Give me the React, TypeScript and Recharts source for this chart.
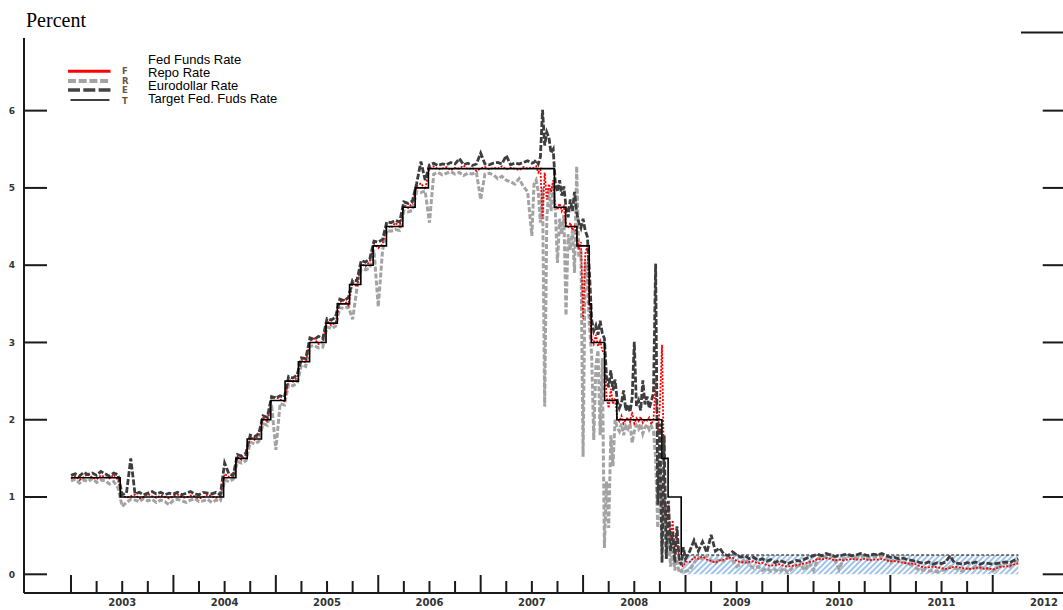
import React from 'react'
import { Area, ComposedChart, Line, ReferenceLine, XAxis, YAxis } from 'recharts'

// axis ranges (fractional years / percent)
const X_MIN = 2002.541
const X_MAX = 2012.686
const Y_MIN = -0.242
const Y_MAX = 6.94

const Y_TICKS = [0, 1, 2, 3, 4, 5, 6]
const YEAR_LABELS = ['2003', '2004', '2005', '2006', '2007', '2008', '2009', '2010', '2011', '2012']

// observation dates: half-monthly to mid-2007, weekly through 2008, half-monthly after
const DATES = [
  ...Array.from({ length: 109 }, (_, i) => 2003 + i / 24),
  ...Array.from({ length: 72 }, (_, j) => 2007.5 + (j + 1) / 48),
  ...Array.from({ length: 78 }, (_, k) => 2009 + (k + 1) / 24),
]

const FED_FUNDS = [
  1.24, 1.27, 1.22, 1.26, 1.30, 1.25, 1.23, 1.28, 1.26, 1.24, 1.29, 1.22,
  1.02, 0.99, 1.01, 1.03, 0.98, 1.00, 1.04, 1.01, 0.99, 1.02, 1.00, 0.98,
  1.01, 1.03, 1.00, 0.99, 1.02, 1.01, 0.98, 1.00, 1.03, 1.01, 0.99, 1.02,
  1.30, 1.26, 1.28, 1.52, 1.48, 1.55, 1.78, 1.74, 1.80, 2.02, 1.98, 2.28,
  2.30, 2.26, 2.24, 2.52, 2.49, 2.55, 2.78, 2.74, 3.02, 3.05, 2.98, 3.01,
  3.28, 3.22, 3.26, 3.52, 3.55, 3.48, 3.78, 3.72, 4.02, 3.98, 4.05, 4.28,
  4.22, 4.27, 4.52, 4.48, 4.55, 4.50, 4.78, 4.74, 4.80, 5.02, 5.06, 4.98,
  5.26, 5.28, 5.24, 5.25, 5.27, 5.23, 5.26, 5.25, 5.29, 5.24, 5.26, 5.22, 5.25,
  5.27, 5.24, 5.26, 5.25, 5.28, 5.24, 5.26, 5.25, 5.23, 5.27, 5.25, 5.26,
  // 2007H2 - 2008 weekly
  5.26, 5.28, 5.20, 5.24, 4.60, 5.20, 4.85, 5.05, 4.95, 5.10,
  4.78, 4.72, 4.80, 4.70, 4.76,
  4.52, 4.48, 4.55, 4.45, 4.50, 4.40,
  4.20, 4.30, 3.30, 4.15, 4.25,
  3.45,
  3.05, 2.98, 3.10, 2.95, 3.02, 2.90, 2.85,
  2.30, 2.15, 2.40, 2.20, 2.28,
  2.02, 1.98, 2.05, 1.95, 2.00, 2.03, 1.97, 2.10, 1.95, 2.02, 1.98, 2.04, 1.96, 2.01, 1.99, 2.03, 1.94, 2.00,
  2.50, 1.80, 2.20,
  2.97, 1.20, 0.65,
  0.90, 0.45, 0.70, 0.25, 0.50, 0.20,
  0.12, 0.10, 0.16,
  // 2009 - 2012
  0.16, 0.22, 0.20, 0.23, 0.19, 0.17, 0.15, 0.18, 0.19, 0.21, 0.22, 0.17,
  0.16, 0.15, 0.16, 0.17, 0.14, 0.15, 0.12, 0.11, 0.12, 0.13, 0.11, 0.10,
  0.11, 0.12, 0.13, 0.14, 0.16, 0.17, 0.20, 0.19, 0.21, 0.20, 0.18, 0.19,
  0.18, 0.19, 0.20, 0.19, 0.19, 0.20, 0.18, 0.19, 0.19, 0.20, 0.18, 0.17,
  0.17, 0.16, 0.15, 0.14, 0.14, 0.13, 0.10, 0.09, 0.09, 0.10, 0.09, 0.08,
  0.07, 0.08, 0.10, 0.09, 0.08, 0.07, 0.07, 0.08, 0.09, 0.07, 0.08, 0.06,
  0.08, 0.10, 0.10, 0.11, 0.13, 0.14,
]

const REPO = [
  1.21, 1.23, 1.18, 1.22, 1.20, 1.24, 1.19, 1.22, 1.21, 1.17, 1.20, 1.12,
  0.88, 0.93, 0.97, 0.96, 0.94, 0.98, 0.95, 0.97, 0.93, 0.96, 0.94, 0.90,
  0.96, 0.97, 0.95, 0.93, 0.96, 0.98, 0.94, 0.95, 0.97, 0.93, 0.96, 0.95,
  1.22, 1.20, 1.23, 1.46, 1.44, 1.47, 1.71, 1.69, 1.72, 1.95, 1.93, 2.20,
  1.61, 2.21, 2.19, 2.46, 2.44, 2.47, 2.71, 2.69, 2.95, 2.96, 2.93, 2.94,
  3.20, 3.18, 3.21, 3.45, 3.44, 3.46, 3.30, 3.70, 3.95, 3.94, 3.96, 4.20,
  3.46, 4.19, 4.45, 4.44, 4.46, 4.45, 4.70, 4.69, 4.71, 4.95, 4.94, 4.96,
  4.55, 5.18, 5.20, 5.17, 5.19, 5.21, 5.18, 5.20, 5.16, 5.19, 5.18, 5.20, 4.85,
  5.18, 5.19, 5.17, 5.12, 5.15, 5.10, 5.08, 5.05, 5.12, 5.02, 4.95, 4.38,
  // 2007H2 - 2008 weekly
  5.05, 5.10, 4.95, 4.55, 5.00, 2.17, 4.60, 5.00, 4.70, 5.05,
  4.70, 4.03, 4.60, 4.40, 4.65,
  3.35, 4.40, 4.20, 4.45, 3.90, 5.28,
  4.10, 4.20, 1.52, 4.05, 3.80,
  3.20,
  2.85, 1.74, 2.70, 2.90, 1.80, 2.80, 0.34,
  1.20, 0.60, 1.80, 1.40, 2.00,
  1.90, 1.85, 1.95, 1.80, 1.92, 1.88, 1.95, 1.70, 1.85, 1.93, 1.88, 1.95, 1.82, 1.90, 1.94, 1.87, 1.92, 1.85,
  1.50, 0.60, 1.40,
  0.30, 1.00, 0.20,
  0.50, 0.10, 0.30, 0.05, 0.20, 0.02,
  0.05, 0.02, 0.04,
  // 2009 - 2012
  0.05, 0.15, 0.22, 0.20, 0.24, 0.18, 0.15, 0.20, 0.17, 0.22, 0.18, 0.10,
  0.14, 0.20, 0.12, 0.08, 0.10, 0.05, 0.08, 0.04, 0.06, 0.03, 0.08, 0.02,
  0.08, 0.10, 0.12, 0.05, 0.15, 0.05, 0.20, 0.24, 0.22, 0.25, 0.18, 0.06,
  0.20, 0.23, 0.24, 0.21, 0.22, 0.25, 0.20, 0.23, 0.22, 0.24, 0.21, 0.15,
  0.20, 0.18, 0.16, 0.14, 0.12, 0.08, 0.05, 0.06, 0.04, 0.05, 0.03, 0.05,
  0.06, 0.10, 0.08, 0.06, 0.04, 0.08, 0.06, 0.10, 0.08, 0.09, 0.07, 0.04,
  0.08, 0.12, 0.15, 0.10, 0.16, 0.18,
]

const EURODOLLAR = [
  1.28, 1.30, 1.27, 1.32, 1.29, 1.31, 1.28, 1.33, 1.30, 1.27, 1.31, 1.29,
  1.03, 1.05, 1.50, 1.04, 1.06, 1.03, 1.05, 1.07, 1.04, 1.06, 1.03, 1.05,
  1.04, 1.06, 1.03, 1.05, 1.07, 1.04, 1.03, 1.06, 1.05, 1.04, 1.06, 1.03,
  1.44, 1.30, 1.28, 1.55, 1.53, 1.57, 1.80, 1.78, 1.82, 2.05, 2.03, 2.30,
  2.28, 2.31, 2.29, 2.56, 2.54, 2.58, 2.80, 2.79, 3.06, 3.04, 3.08, 3.05,
  3.31, 3.29, 3.33, 3.56, 3.54, 3.58, 3.81, 3.80, 4.06, 4.04, 4.08, 4.31,
  4.30, 4.33, 4.56, 4.55, 4.58, 4.56, 4.82, 4.80, 4.83, 5.06, 5.34, 5.10,
  5.30, 5.32, 5.29, 5.31, 5.30, 5.33, 5.31, 5.38, 5.30, 5.32, 5.29, 5.31, 5.45,
  5.31, 5.30, 5.32, 5.33, 5.31, 5.42, 5.30, 5.32, 5.31, 5.33, 5.35, 5.32,
  // 2007H2 - 2008 weekly
  5.33, 5.36, 5.31, 5.40, 6.01, 5.55, 5.72, 5.65, 5.45, 5.50,
  5.05, 4.95, 5.10, 4.90, 5.02,
  4.75, 4.62, 4.85, 4.70, 4.95, 4.68,
  4.55, 4.48, 4.60, 4.45, 4.37,
  3.90,
  3.30, 3.15, 3.22, 3.10, 3.28, 3.12, 3.05,
  2.55, 2.42, 2.64, 2.38, 2.52,
  2.25, 2.15, 2.22, 2.38, 2.12, 2.20, 2.10, 2.28, 3.01, 2.18, 2.25, 2.12, 2.51, 2.20, 2.30, 2.15, 2.24, 2.35,
  4.02, 0.90, 1.95,
  0.15, 1.80, 0.20,
  0.95, 0.30, 0.55, 0.15, 0.62, 0.20,
  0.12, 0.35, 0.20,
  // 2009 - 2012
  0.30, 0.44, 0.30, 0.42, 0.28, 0.51, 0.30, 0.34, 0.26, 0.24, 0.29, 0.25,
  0.22, 0.24, 0.20, 0.22, 0.18, 0.20, 0.17, 0.19, 0.15, 0.18, 0.16, 0.14,
  0.16, 0.18, 0.17, 0.20, 0.22, 0.24, 0.26, 0.24, 0.27, 0.25, 0.23, 0.24,
  0.25, 0.26, 0.24, 0.25, 0.27, 0.25, 0.24, 0.26, 0.25, 0.27, 0.24, 0.22,
  0.22, 0.20, 0.21, 0.19, 0.18, 0.17, 0.15, 0.14, 0.16, 0.13, 0.15, 0.14,
  0.16, 0.24, 0.15, 0.14, 0.13, 0.15, 0.14, 0.16, 0.13, 0.15, 0.14, 0.13,
  0.14, 0.15, 0.16, 0.15, 0.18, 0.20,
]

// FOMC target changes (date of change, new rate)
const TARGET_DATES = [
  2003.0, 2003.48, 2004.49, 2004.61, 2004.72, 2004.86, 2004.95, 2005.09, 2005.22, 2005.33,
  2005.49, 2005.6, 2005.72, 2005.83, 2005.95, 2006.08, 2006.24, 2006.36, 2006.49, 2007.72,
  2007.83, 2007.94, 2008.06, 2008.08, 2008.21, 2008.33, 2008.77, 2008.83, 2008.958,
]
const TARGET = [
  1.25, 1.0, 1.25, 1.5, 1.75, 2.0, 2.25, 2.5, 2.75, 3.0,
  3.25, 3.5, 3.75, 4.0, 4.25, 4.5, 4.75, 5.0, 5.25, 4.75,
  4.5, 4.25, 3.5, 3.0, 2.25, 2.0, 1.5, 1.0, 0.25,
]

// target range 0 - 0.25 since Dec 2008
const RANGE_DATES = [2008.958, 2012.25]
const RANGE_HIGH = [0.25, 0.25]

const rows = (dates: number[], vals: number[]) => dates.map((t, i) => ({ t, v: vals[i] }))
const ffData = rows(DATES, FED_FUNDS)
const repoData = rows(DATES, REPO)
const euroData = rows(DATES, EURODOLLAR)
const targetData = rows(TARGET_DATES, TARGET)
const rangeData = rows(RANGE_DATES, RANGE_HIGH)

const QUARTERS = Array.from({ length: 37 }, (_, i) => 2003 + i / 4)
const LABEL_AT = YEAR_LABELS.map((y) => Number(y) + 0.5)
const X_TICKS = Array.from(new Set([...QUARTERS, ...LABEL_AT])).sort((a, b) => a - b)

const AXIS = '#1a1a1a'
const TICK_FONT = "'DejaVu Sans', Verdana, sans-serif"
const PLOT_LEFT = 24
const PLOT_BOTTOM = 593

const LEGEND = [
  { name: 'Fed Funds Rate', code: 'F', color: '#ff0000', width: 3, dash: undefined },
  { name: 'Repo Rate', code: 'R', color: '#a3a3a3', width: 4, dash: '8 2.7' },
  { name: 'Eurodollar Rate', code: 'E', color: '#444444', width: 3.3, dash: '12 3.3' },
  { name: 'Target Fed. Fuds Rate', code: 'T', color: '#000000', width: 1.4, dash: undefined },
]

function XTick(props: any) {
  const { x, payload } = props
  const v = payload.value as number
  const major = Math.abs(v - Math.round(v)) < 1e-6
  const idx = LABEL_AT.indexOf(v)
  return (
    <g>
      {v <= 2012.001 && (
        <line x1={x} x2={x} y1={PLOT_BOTTOM} y2={major ? PLOT_BOTTOM - 18 : PLOT_BOTTOM - 12} stroke={AXIS} strokeWidth={2} />
      )}
      {idx >= 0 && (
        <text x={x} y={606} textAnchor="middle" fontSize={10} fontWeight="bold" fontFamily={TICK_FONT} fill="#333">
          {YEAR_LABELS[idx]}
        </text>
      )}
    </g>
  )
}

function YTick(props: any) {
  const { y, payload } = props
  return (
    <g>
      <line x1={PLOT_LEFT} x2={PLOT_LEFT + 23} y1={y} y2={y} stroke={AXIS} strokeWidth={2} />
      <text x={12} y={y + 3.3} textAnchor="middle" fontSize={9} fontWeight="bold" fontFamily={TICK_FONT} fill="#333">
        {payload.value}
      </text>
    </g>
  )
}

export default function App() {
  return (
    <div style={{ position: 'absolute', left: 0, top: 0, width: 1063, height: 610, overflow: 'hidden', background: '#fff' }}>
      <ComposedChart width={1063} height={610} margin={{ top: 38, right: 0, bottom: 0, left: 0 }}>
        <defs>
          <pattern id="hatch" patternUnits="userSpaceOnUse" width="4" height="4" patternTransform="rotate(45)">
            <line x1="1" y1="0" x2="1" y2="4" stroke="#5f9bd8" strokeWidth="1.4" />
          </pattern>
        </defs>
        <XAxis
          type="number"
          dataKey="t"
          domain={[X_MIN, X_MAX]}
          allowDataOverflow
          ticks={X_TICKS}
          interval={0}
          tick={XTick}
          tickLine={false}
          axisLine={{ stroke: AXIS, strokeWidth: 2 }}
          height={17}
        />
        <YAxis
          type="number"
          domain={[Y_MIN, Y_MAX]}
          allowDataOverflow
          ticks={Y_TICKS}
          interval={0}
          tick={YTick}
          tickLine={false}
          axisLine={{ stroke: AXIS, strokeWidth: 2 }}
          width={24}
        />
        {Y_TICKS.map((v) => (
          <ReferenceLine
            key={v}
            segment={[{ x: 2012.488, y: v }, { x: X_MAX, y: v }]}
            stroke={AXIS}
            strokeWidth={2}
            ifOverflow="visible"
          />
        ))}
        <ReferenceLine
          segment={[{ x: 2012.276, y: 7.01 }, { x: X_MAX, y: 7.01 }]}
          stroke={AXIS}
          strokeWidth={2}
          ifOverflow="visible"
        />
        <Line data={repoData} dataKey="v" type="linear" dot={false} activeDot={false} stroke="#a3a3a3" strokeWidth={3} strokeDasharray="5 2" isAnimationActive={false} />
        <Line data={ffData} dataKey="v" type="linear" dot={false} activeDot={false} stroke="#ff0000" strokeWidth={1.8} strokeDasharray="2 1.5" isAnimationActive={false} />
        <Line data={euroData} dataKey="v" type="linear" dot={false} activeDot={false} stroke="#3d3d3d" strokeWidth={2.8} strokeDasharray="6 2" isAnimationActive={false} />
        <Area data={rangeData} dataKey="v" type="linear" baseValue={0} fill="url(#hatch)" fillOpacity={0.85} stroke="#000" strokeWidth={1.2} strokeDasharray="3 2" dot={false} activeDot={false} isAnimationActive={false} />
        <Line data={targetData} dataKey="v" type="stepAfter" dot={false} activeDot={false} stroke="#000" strokeWidth={1.6} isAnimationActive={false} />
      </ComposedChart>
      <svg width={1063} height={610} style={{ position: 'absolute', left: 0, top: 0, pointerEvents: 'none' }}>
        <text x={26} y={27} fontSize={20} fontFamily="'Liberation Serif', 'Times New Roman', serif" fill="#000">
          Percent
        </text>
        {LEGEND.map((item, i) => (
          <g key={item.code}>
            <line
              x1={i === 3 ? 70.5 : 68}
              x2={i === 3 ? 109.5 : 110.5}
              y1={[71.3, 81, 90, 100][i]}
              y2={[71.3, 81, 90, 100][i]}
              stroke={item.color}
              strokeWidth={item.width}
              strokeDasharray={item.dash}
            />
            <text x={122} y={[74, 83.5, 92.5, 103.5][i]} fontSize={8.5} fontWeight="bold" fontFamily={TICK_FONT} fill="#6a5540">
              {item.code}
            </text>
            <text x={148} y={64 + i * 13} fontSize={13} fontFamily="'Liberation Sans', Arial, sans-serif" fill="#000">
              {item.name}
            </text>
          </g>
        ))}
      </svg>
    </div>
  )
}
